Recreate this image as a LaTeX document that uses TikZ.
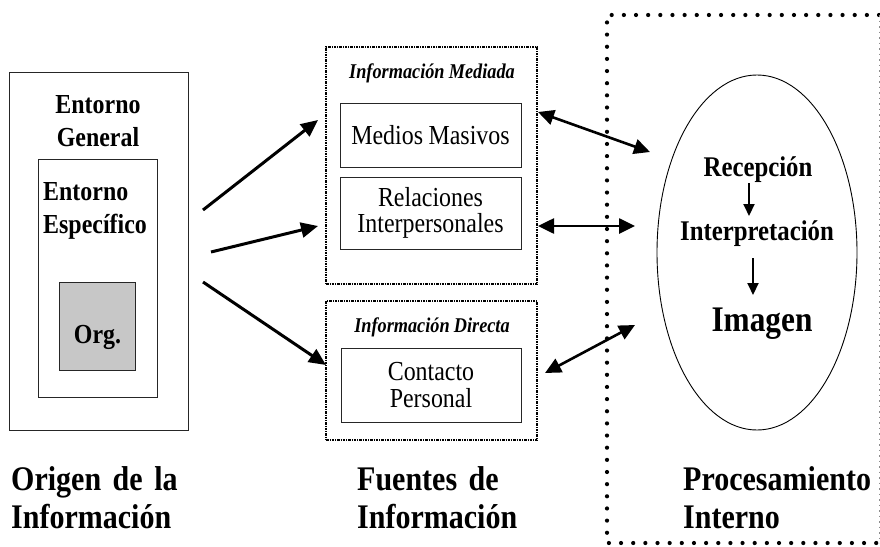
\documentclass[tikz,border=0pt]{standalone}
\usepackage{fontspec}
\setmainfont{Liberation Serif}[FakeStretch=0.87]
\usetikzlibrary{arrows.meta,shapes.geometric}
\newcommand\fsz[2]{\fontsize{#1}{#2}\selectfont}
\newcommand\tightspace{\spaceskip=0.2em plus 0.05em minus 0.02em\relax}
\tikzset{
  framebox/.style={draw=black!85, line width=0.9pt, rectangle, inner sep=0pt},
  groupbox/.style={draw=black, line width=1.3pt, rectangle, inner sep=0pt,
    dash pattern=on 2.5pt off 1pt on 1pt off 1pt},
  bigarrow/.style={line width=3pt, -{Triangle[length=17pt,width=15pt]}},
  dblarrow/.style={line width=2.6pt,
    {Triangle[length=16pt,width=15pt]}-{Triangle[length=16pt,width=15pt]}},
  smallarrow/.style={line width=2pt, -{Triangle[length=12pt,width=11pt]}},
  boldtxt/.style={inner sep=0pt, font=\bfseries\fsz{27.5}{33}},
  boxtxt/.style={font=\fsz{27.5}{26.5}\tightspace, align=center},
  biglabel/.style={inner sep=0pt, font=\bfseries\fsz{34.5}{38}\tightspace, text width=220pt, align=left, anchor=base west},
}
\begin{document}
\begin{tikzpicture}[x=1pt,y=-1pt]
\useasboundingbox (0,0) rectangle (880,546);

% origin of the information
\node[framebox, minimum width=179pt, minimum height=358pt] (gen) at (98.5,251) {};
\node[boldtxt, text width=160pt, align=center, anchor=base] (gentxt) at (98,113) {Entorno\\General};
\node[framebox, minimum width=119pt, minimum height=238pt] (esp) at (97.5,278) {};
\node[boldtxt, text width=115pt, align=left, anchor=base west] (esptxt) at (43,200) {Entorno\\Específico};
\node[framebox, fill=black!22, minimum width=76pt, minimum height=88pt] (org) at (97,326) {};
\node[boldtxt, anchor=base] (orgtxt) at (97.5,343) {Org.};

% sources of information
\node[groupbox, minimum width=211pt, minimum height=237pt] (med) at (431.5,165.5) {};
\node[inner sep=0pt, anchor=base, font=\bfseries\itshape\fsz{21}{22}\tightspace] (medtxt) at (432,78) {Información Mediada};
\node[framebox, boxtxt, minimum width=181pt, minimum height=64pt] (mm) at (430.5,135) {Medios Masivos};
\node[framebox, boxtxt, minimum width=181pt, minimum height=72pt] (ri) at (430.5,213) {Relaciones\\Interpersonales};

\node[groupbox, minimum width=211pt, minimum height=139pt] (dir) at (431.5,370.5) {};
\node[inner sep=0pt, anchor=base, font=\bfseries\itshape\fsz{21}{22}\tightspace] (dirtxt) at (432,332) {Información Directa};
\node[framebox, boxtxt, font=\fsz{27.5}{27}, minimum width=180pt, minimum height=74pt] (cp) at (431,385) {Contacto\\Personal};

% internal processing area
\draw[line width=4.2pt, line cap=round, dash pattern=on 0pt off 12.15pt]
  (879,15) -- (607,15) -- (607,543) -- (879,543);
\draw[black!45, line width=0.6pt, dash pattern=on 1.5pt off 4pt] (879,15) -- (879,543);

\node[draw, ellipse, line width=0.9pt, minimum width=200pt, minimum height=355pt, inner sep=0pt] (proc) at (757,252.5) {};
\node[boldtxt, font=\bfseries\fsz{28.5}{28}, anchor=base] (rec) at (758,176) {Recepción};
\node[boldtxt, font=\bfseries\fsz{28.5}{28}, anchor=base] (int) at (757,240) {Interpretación};
\node[boldtxt, font=\bfseries\fsz{36}{36}, anchor=base] (img) at (762,331) {Imagen};

\coordinate (r1s) at (749,183); \coordinate (r1e) at (749,216);
\coordinate (r2s) at (753,258); \coordinate (r2e) at (753,295);
\draw[smallarrow] (r1s) -- (r1e);
\draw[smallarrow] (r2s) -- (r2e);

% connectors between the columns
\coordinate (a1s) at (203,210); \coordinate (a1e) at (318,120);
\coordinate (a2s) at (211,252); \coordinate (a2e) at (318,226);
\coordinate (a3s) at (203,282); \coordinate (a3e) at (326,365);
\draw[bigarrow] (a1s) -- (a1e);
\draw[bigarrow] (a2s) -- (a2e);
\draw[bigarrow] (a3s) -- (a3e);

\coordinate (d1s) at (538,112); \coordinate (d1e) at (650,152);
\coordinate (d2s) at (538,226); \coordinate (d2e) at (635,226);
\coordinate (d3s) at (545,373); \coordinate (d3e) at (635,325);
\draw[dblarrow] (d1s) -- (d1e);
\draw[dblarrow] (d2s) -- (d2e);
\draw[dblarrow] (d3s) -- (d3e);

% column captions
\node[biglabel] (orig) at (11,490) {Origen de la\\Información};
\node[biglabel] (fuen) at (357,490) {Fuentes de\\Información};
\node[biglabel] (proctxt) at (683,490) {Procesamiento\\Interno};
\end{tikzpicture}
\end{document}
